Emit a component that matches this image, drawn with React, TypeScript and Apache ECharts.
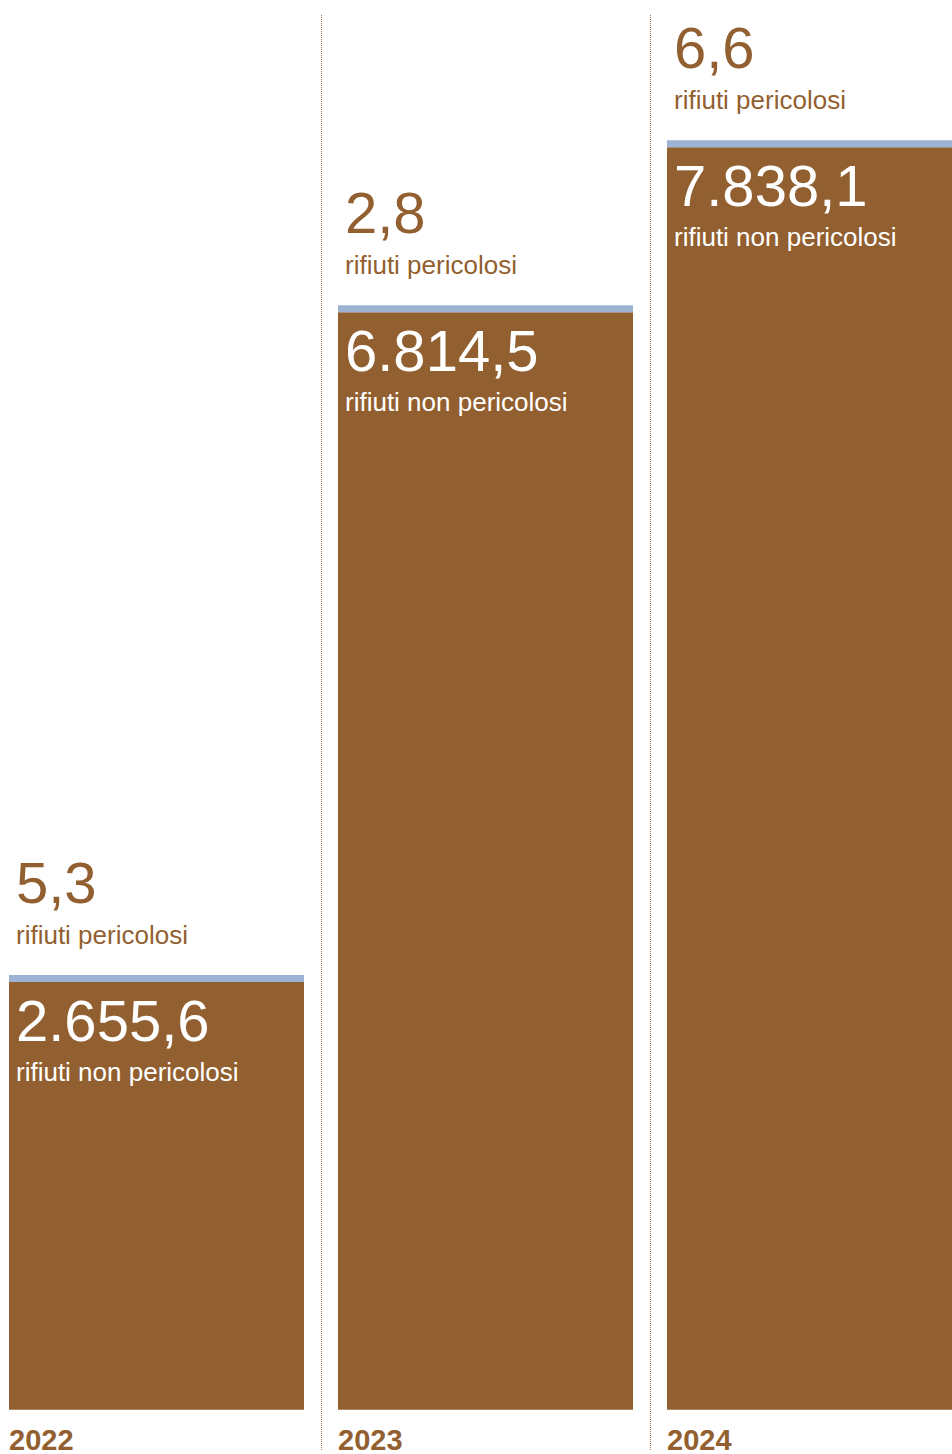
import React, { useEffect, useRef } from "react";
import * as echarts from "echarts";

// ---- data ----
const years = ["2022", "2023", "2024"];
const nonHazardous = [2655.6, 6814.5, 7838.1]; // rifiuti non pericolosi
const hazardous = [5.3, 2.8, 6.6]; // rifiuti pericolosi
const hazardousLabel = "rifiuti pericolosi";
const nonHazardousLabel = "rifiuti non pericolosi";

// ---- style ----
const BROWN = "#925F30";
const CAP_BLUE = "#9DB3D4";
const DOT = "#A27448";
const FONT = "'Liberation Sans', Arial, sans-serif";
const BAR_WIDTH = 295;
const CAP_HEIGHT = 7;

function fmtIt(v: number): string {
  const [intPart, decPart] = v.toFixed(1).split(".");
  const grouped = intPart.replace(/\B(?=(\d{3})+(?!\d))/g, ".");
  return `${grouped},${decPart}`;
}

export default function App() {
  const ref = useRef<HTMLDivElement>(null);

  useEffect(() => {
    if (!ref.current) return;
    const chart = echarts.init(ref.current, undefined, { renderer: "svg" });

    const customData = years.map((_, i) => [i, nonHazardous[i], hazardous[i]]);

    chart.setOption({
      animation: false,
      grid: { left: 0, right: 0, top: 15, bottom: 0, containLabel: false },
      xAxis: {
        type: "category",
        data: years,
        boundaryGap: true,
        axisLine: { show: false },
        axisTick: { show: false },
        splitLine: {
          show: true,
          interval: 0,
          lineStyle: { color: DOT, type: [1, 1], width: 1 },
        },
        axisLabel: {
          interval: 0,
          margin: -25,
          formatter: (v: string) => `{y|${v}}`,
          rich: {
            y: {
              width: BAR_WIDTH,
              align: "left",
              fontSize: 29,
              fontWeight: "bold",
              color: BROWN,
              fontFamily: FONT,
            },
          },
        },
      },
      yAxis: {
        type: "value",
        min: -250,
        max: 8660,
        show: false,
      },
      series: [
        {
          type: "bar",
          name: nonHazardousLabel,
          data: nonHazardous,
          barWidth: BAR_WIDTH,
          itemStyle: { color: BROWN },
          z: 2,
        },
        {
          type: "custom",
          name: hazardousLabel,
          data: customData,
          encode: { x: 0, y: 1 },
          z: 3,
          renderItem: (params: any, api: any) => {
            const idx = api.value(0);
            const v = api.value(1);
            const h = api.value(2);
            const pt = api.coord([idx, v]);
            const left = pt[0] - BAR_WIDTH / 2;
            const top = pt[1];
            const tx = left + 7;
            return {
              type: "group",
              children: [
                {
                  type: "rect",
                  shape: { x: left, y: top - CAP_HEIGHT, width: BAR_WIDTH, height: CAP_HEIGHT },
                  style: { fill: CAP_BLUE },
                },
                {
                  type: "text",
                  x: tx,
                  y: top - 100,
                  style: {
                    text: fmtIt(h),
                    fill: BROWN,
                    fontSize: 58,
                    fontFamily: FONT,
                    align: "left",
                    verticalAlign: "middle",
                  },
                },
                {
                  type: "text",
                  x: tx,
                  y: top - 47,
                  style: {
                    text: hazardousLabel,
                    fill: BROWN,
                    fontSize: 26,
                    fontFamily: FONT,
                    align: "left",
                    verticalAlign: "middle",
                  },
                },
                {
                  type: "text",
                  x: tx,
                  y: top + 38,
                  style: {
                    text: fmtIt(v),
                    fill: "#FFFFFF",
                    fontSize: 58,
                    fontFamily: FONT,
                    align: "left",
                    verticalAlign: "middle",
                  },
                },
                {
                  type: "text",
                  x: tx,
                  y: top + 90,
                  style: {
                    text: nonHazardousLabel,
                    fill: "#FFFFFF",
                    fontSize: 26,
                    fontFamily: FONT,
                    align: "left",
                    verticalAlign: "middle",
                  },
                },
              ],
            };
          },
        },
      ],
    });

    return () => chart.dispose();
  }, []);

  return (
    <div
      style={{
        position: "absolute",
        left: 0,
        top: 0,
        width: 952,
        height: 1454,
        overflow: "hidden",
      }}
    >
      <div
        ref={ref}
        style={{ position: "absolute", left: -8, top: 0, width: 987, height: 1454 }}
      />
    </div>
  );
}
